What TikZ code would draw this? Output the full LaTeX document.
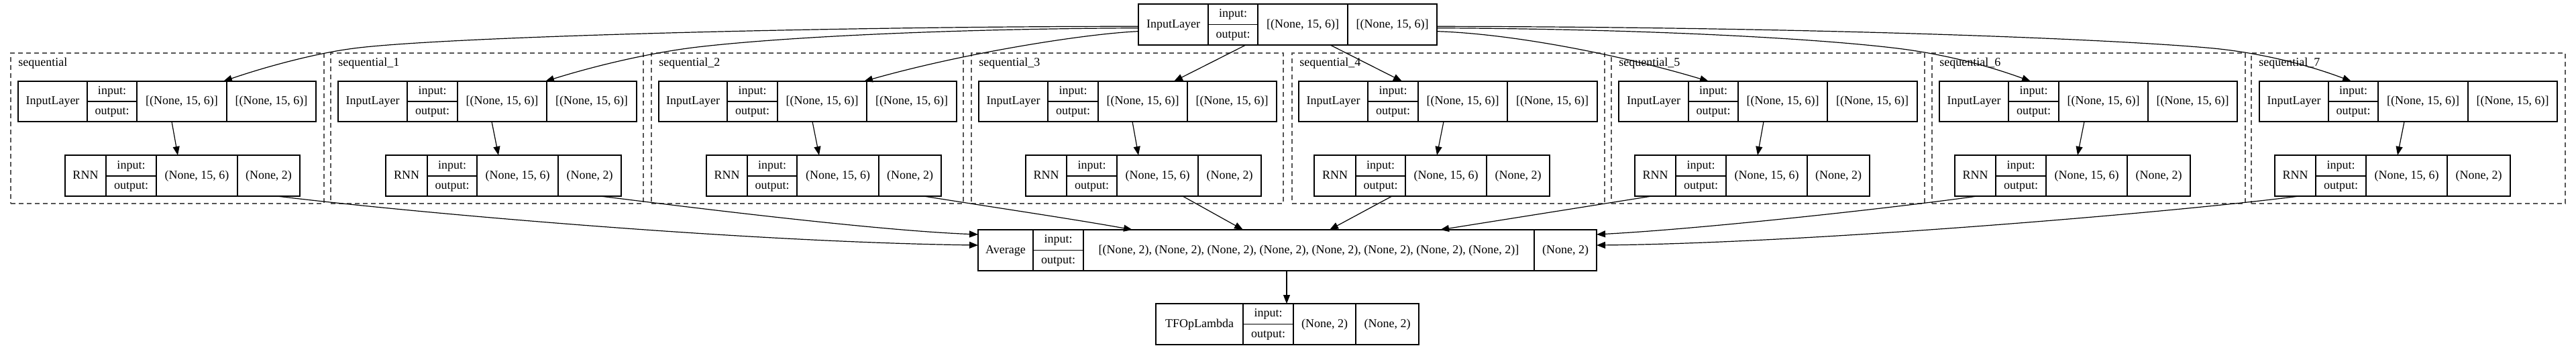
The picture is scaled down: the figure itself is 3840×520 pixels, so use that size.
\documentclass[tikz,border=0pt]{standalone}
\usepackage{fontspec}
\setmainfont{Liberation Serif}
\usetikzlibrary{arrows.meta,calc,fit}
\definecolor{clgray}{RGB}{85,85,85}
\tikzset{
  recbox/.style={draw=black, line width=0.65pt, inner sep=0pt, outer sep=0pt},
  recline/.style={draw=black, line width=0.65pt},
  rectext/.style={inner sep=0pt, font=\fontsize{9}{10}\selectfont, text height=6.1pt, text depth=1.6pt},
  clusbox/.style={draw=clgray, line width=0.6pt, dash pattern=on 3.5pt off 2.5pt, inner sep=0pt, outer sep=0pt},
  conn/.style={draw=black, line width=0.6pt, -{Triangle[length=6.5pt,width=5pt]}},
}
\def\recnode#1(#2,#3,#4,#5,#6)(#7,#8,#9){\def\rn{#1}\def\xa{#2}\def\xb{#3}\def\xc{#4}\def\xd{#5}\def\xe{#6}\def\yt{#7}\def\ym{#8}\def\yb{#9}\recrest}
\newcommand\recrest[3]{%
  \coordinate (\rn-nw) at (\xa,\yt);
  \coordinate (\rn-se) at (\xe,\yb);
  \node[recbox, fit=(\rn-nw)(\rn-se)] (\rn) {};
  \draw[recline] (\xb,\yt) -- (\xb,\yb) (\xc,\yt) -- (\xc,\yb) (\xd,\yt) -- (\xd,\yb) (\xb,\ym) -- (\xc,\ym);
  \node[rectext] (\rn-name) at ($(\xa,\yt)!0.5!(\xb,\yb)$) {#1};
  \node[rectext] (\rn-in) at ($(\xb,\yt)!0.5!(\xc,\ym)$) {input:};
  \node[rectext] (\rn-out) at ($(\xb,\ym)!0.5!(\xc,\yb)$) {output:};
  \node[rectext] (\rn-ishape) at ($(\xc,\yt)!0.5!(\xd,\yb)$) {#2};
  \node[rectext] (\rn-oshape) at ($(\xd,\yt)!0.5!(\xe,\yb)$) {#3};
}
\def\clusnode#1(#2,#3)#4{%
  \coordinate (#1-nw) at (#2,79);
  \coordinate (#1-se) at (#3,303);
  \node[clusbox, fit=(#1-nw)(#1-se)] (#1) {};
  \node[rectext, anchor=west] (#1-lab) at (#2+11,94) {#4};
}
\begin{document}
\begin{tikzpicture}[x=0.5pt, y=-0.5pt]
\path[use as bounding box, fill=white] (0,0) rectangle (3840,520);

% clusters
\clusnode c0(16,483){sequential}
\clusnode c1(493,959){sequential\_1}
\clusnode c2(971,1436){sequential\_2}
\clusnode c3(1448,1913){sequential\_3}
\clusnode c4(1926,2392){sequential\_4}
\clusnode c5(2402,2869){sequential\_5}
\clusnode c6(2880,3347){sequential\_6}
\clusnode c7(3356,3824){sequential\_7}

% top input
\recnode t(1697,1801,1875,2009,2142)(6,36.5,67){InputLayer}{[(None, 15, 6)]}{[(None, 15, 6)]}

% input layers
\recnode i0(27,130,204,338,471)(121,151,181){InputLayer}{[(None, 15, 6)]}{[(None, 15, 6)]}
\recnode i1(504,607,682,815,949)(121,151,181){InputLayer}{[(None, 15, 6)]}{[(None, 15, 6)]}
\recnode i2(982,1084,1159,1292,1426)(121,151,181){InputLayer}{[(None, 15, 6)]}{[(None, 15, 6)]}
\recnode i3(1459,1562,1637,1770,1903)(121,151,181){InputLayer}{[(None, 15, 6)]}{[(None, 15, 6)]}
\recnode i4(1936,2039,2114,2247,2381)(121,151,181){InputLayer}{[(None, 15, 6)]}{[(None, 15, 6)]}
\recnode i5(2413,2517,2591,2724,2858)(121,151,181){InputLayer}{[(None, 15, 6)]}{[(None, 15, 6)]}
\recnode i6(2891,2994,3069,3202,3335)(121,151,181){InputLayer}{[(None, 15, 6)]}{[(None, 15, 6)]}
\recnode i7(3368,3471,3545,3679,3812)(121,151,181){InputLayer}{[(None, 15, 6)]}{[(None, 15, 6)]}

% RNN layers
\recnode r0(97,158,233,354,447)(231,262,292){RNN}{(None, 15, 6)}{(None, 2)}
\recnode r1(575,637,711,832,926)(231,262,292){RNN}{(None, 15, 6)}{(None, 2)}
\recnode r2(1053,1114,1188,1310,1403)(231,262,292){RNN}{(None, 15, 6)}{(None, 2)}
\recnode r3(1529,1590,1665,1786,1880)(231,262,292){RNN}{(None, 15, 6)}{(None, 2)}
\recnode r4(1959,2021,2095,2216,2310)(231,262,292){RNN}{(None, 15, 6)}{(None, 2)}
\recnode r5(2437,2498,2573,2694,2787)(231,262,292){RNN}{(None, 15, 6)}{(None, 2)}
\recnode r6(2914,2975,3050,3171,3265)(231,262,292){RNN}{(None, 15, 6)}{(None, 2)}
\recnode r7(3391,3452,3527,3648,3742)(231,262,292){RNN}{(None, 15, 6)}{(None, 2)}

% average and lambda
\recnode a(1458,1540,1615,2287,2380)(342,372.5,403){Average}{[(None, 2), (None, 2), (None, 2), (None, 2), (None, 2), (None, 2), (None, 2), (None, 2)]}{(None, 2)}
\recnode tf(1723,1853,1928,2021,2115)(452,482.5,513){TFOpLambda}{(None, 2)}{(None, 2)}

% top node -> cluster inputs
\draw[conn] ($(t.west)+(0,2.8)$) .. controls (1250,39) and (640,55) .. (520,73) .. controls (470,80) and (400,98) .. ($(i0.north west)+(306,0)$);
\draw[conn] ($(t.west)+(0,5.2)$) .. controls (1400,43) and (1160,56) .. (1040,70) .. controls (980,77) and (900,94) .. ($(i1.north west)+(309,0)$);
\draw[conn] ($(t.west)+(0,10.2)$) .. controls (1620,50) and (1440,78) .. ($(i2.north west)+(306,0)$);
\draw[conn] ($(t.south west)+(160,0)$) -- ($(i3.north west)+(291,0)$);
\draw[conn] ($(t.south west)+(286,0)$) -- ($(i4.north west)+(154,0)$);
\draw[conn] ($(t.east)+(0,10.2)$) .. controls (2250,50) and (2410,80) .. ($(i5.north west)+(134,0)$);
\draw[conn] ($(t.east)+(0,5.2)$) .. controls (2450,43) and (2700,57) .. (2820,71) .. controls (2900,80) and (2970,100) .. ($(i6.north west)+(136,0)$);
\draw[conn] ($(t.east)+(0,2.8)$) .. controls (2700,40) and (3150,58) .. (3300,72) .. controls (3380,80) and (3450,100) .. ($(i7.north west)+(137,0)$);

% input -> RNN inside clusters
\foreach \k in {0,1,2,3} {
  \draw[conn] ($(i\k.south west)+(229,0)$) -- ($(r\k.north west)+(168,0)$);
}
\foreach \k in {4,5,6,7} {
  \draw[conn] ($(i\k.south west)+(216,0)$) -- ($(r\k.north west)+(183,0)$);
}

% RNN -> Average
\draw[conn] ($(r0.south west)+(316,0)$) .. controls (600,315) and (1100,360) .. ($(a.north west)+(0,23)$);
\draw[conn] ($(r1.south west)+(320,0)$) .. controls (1000,305) and (1300,343) .. ($(a.north west)+(0,7)$);
\draw[conn] ($(r2.south west)+(324,0)$) .. controls (1470,307) and (1600,326) .. ($(a.north west)+(230,0)$);
\draw[conn] ($(r3.south west)+(234,0)$) -- ($(a.north west)+(395,0)$);
\draw[conn] ($(r4.south west)+(116,0)$) -- ($(a.north west)+(524,0)$);
\draw[conn] ($(r5.south west)+(25,0)$) -- ($(a.north west)+(689,0)$);
\draw[conn] ($(r6.south west)+(33,0)$) .. controls (2850,306) and (2550,340) .. ($(a.north east)+(0,7)$);
\draw[conn] ($(r7.south west)+(36,0)$) .. controls (3250,315) and (2700,362) .. ($(a.north east)+(0,23)$);

% Average -> TFOpLambda
\draw[conn] ($(a.south west)+(460,0)$) -- ($(tf.north west)+(195,0)$);
\end{tikzpicture}
\end{document}
